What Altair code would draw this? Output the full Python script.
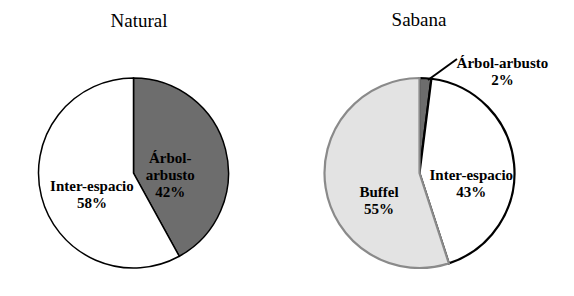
import altair as alt
import pandas as pd

# ---- data ----
panels = ["Natural", "Natural", "Sabana", "Sabana", "Sabana"]
categories = ["Árbol-arbusto", "Inter-espacio", "Árbol-arbusto", "Inter-espacio", "Buffel"]
values = [42, 58, 2, 43, 55]
labels = ["Árbol-\narbusto\n42%", "Inter-espacio\n58%", "Árbol-arbusto\n2%",
          "Inter-espacio\n43%", "Buffel\n55%"]
order_idx = [0, 1, 0, 1, 2]
titles = ["Natural", "Sabana"]

df = pd.DataFrame({"panel": panels, "category": categories, "value": values,
                   "label": labels, "idx": order_idx})
tdf = pd.DataFrame({"title": titles})

cat_domain = ["Árbol-arbusto", "Inter-espacio", "Buffel"]
fill_scale = alt.Scale(domain=cat_domain, range=["#6d6d6d", "#ffffff", "#e3e3e3"])
stroke_scale = alt.Scale(domain=cat_domain, range=["#000000", "#000000", "#8a8a8a"])

R = 95
centers = {"Natural": (125.5, 165), "Sabana": (411.5, 165)}
FONT = "Liberation Serif"

base = alt.Chart(df)

layers = []
for p, sw in [("Natural", 1.5), ("Sabana", 2.2)]:
    cx, cy = centers[p]
    layers.append(
        base.transform_filter(alt.datum.panel == p)
        .mark_arc(radius=R, strokeWidth=sw)
        .encode(
            theta=alt.Theta("value:Q", stack=True),
            order=alt.Order("idx:Q"),
            fill=alt.Fill("category:N", scale=fill_scale, legend=None),
            stroke=alt.Stroke("category:N", scale=stroke_scale, legend=None),
            x=alt.value(cx),
            y=alt.value(cy),
        )
    )

# label placement: (panel, category, radius, dx, dy)
label_specs = [
    ("Natural", "Árbol-arbusto", 40, -2, -5),
    ("Natural", "Inter-espacio", 45, 2, 2),
    ("Sabana", "Inter-espacio", 53, -1, 7),
    ("Sabana", "Buffel", 42, 1, 12),
    ("Sabana", "Árbol-arbusto", 110, 76, 0),
]
for p, c, r, dx, dy in label_specs:
    cx, cy = centers[p]
    layers.append(
        base.transform_filter(alt.datum.panel == p)
        .transform_window(cum="sum(value)", sort=[alt.SortField("idx")])
        .transform_joinaggregate(total="sum(value)")
        .transform_calculate(mid="(datum.cum - datum.value/2) / datum.total * 2 * PI")
        .transform_calculate(px=f"{cx} + {r} * sin(datum.mid)",
                             py=f"{cy} - {r} * cos(datum.mid)")
        .transform_filter(alt.datum.category == c)
        .mark_text(font=FONT, fontWeight="bold", fontSize=15, lineBreak="\n",
                   lineHeight=17, dx=dx, dy=dy, color="black",
                   align="center", baseline="middle")
        .encode(
            x=alt.X("px:Q", scale=None, axis=None),
            y=alt.Y("py:Q", scale=None, axis=None),
            text="label:N",
        )
    )

# leader line for the small slice (one rule, tied to the Sabana Árbol-arbusto row)
layers.append(
    base.transform_filter((alt.datum.panel == "Sabana") & (alt.datum.category == "Árbol-arbusto"))
    .mark_rule(color="black", strokeWidth=2).encode(
        x=alt.value(420), y=alt.value(72), x2=alt.value(449), y2=alt.value(51)
    )
)

# panel titles
for t, (tx, ty) in zip(titles, [(131, 19), (411, 18)]):
    layers.append(
        alt.Chart(tdf).transform_filter(alt.datum.title == t)
        .mark_text(font=FONT, fontSize=19, fontWeight="normal", color="black",
                   align="center", baseline="alphabetic")
        .encode(x=alt.value(tx), y=alt.value(ty), text="title:N")
    )

chart = (
    alt.layer(*layers)
    .properties(width=550, height=276, padding=0,
                autosize=alt.AutoSizeParams(type="none"))
    .configure_view(strokeWidth=0, fill=None)
    .configure_axis(disable=True)
)

chart.save("out.html", embed_options={"renderer": "svg", "actions": False})
